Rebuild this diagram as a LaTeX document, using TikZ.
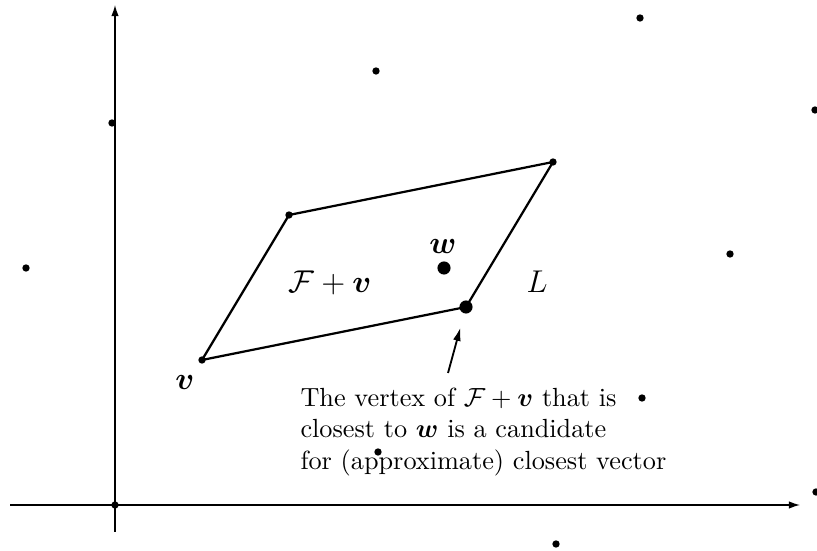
\documentclass[tikz,border=0pt]{standalone}
\usepackage{amsmath,bm}
\usetikzlibrary{arrows.meta}
\begin{document}
\begin{tikzpicture}[x=0.381pt,y=-0.381pt,
  dot/.style={circle,fill=black,inner sep=0pt,minimum size=2.8pt},
  bigdot/.style={circle,fill=black,inner sep=0pt,minimum size=5pt},
  axis/.style={line width=0.5pt,-{Latex[length=4.2pt,width=2.8pt]}},
  edge/.style={line width=0.85pt},
  lbl/.style={inner sep=0pt,font=\fontsize{12.5}{15}\selectfont}]
\useasboundingbox (0,0) rectangle (817,551);
% axes
\coordinate (xs) at (10,505);
\coordinate (xe) at (800,505);
\coordinate (ys) at (115,532);
\coordinate (ye) at (115,5);
\draw[axis] (xs) -- (xe);
\draw[axis] (ys) -- (ye);
% lattice points
\node[dot] (o) at (115,505) {};
\node[dot] (p1) at (112,123) {};
\node[dot] (p2) at (26,268) {};
\node[dot] (p3) at (376,71) {};
\node[dot] (p4) at (640,18) {};
\node[dot] (p5) at (815,110) {};
\node[dot] (p6) at (730,254) {};
\node[dot] (p7) at (642,398) {};
\node[dot] (p8) at (378,452) {};
\node[dot] (p9) at (556,544) {};
\node[dot] (p10) at (816,492) {};
% parallelogram
\node[dot] (v) at (202,360) {};
\node[dot] (b2) at (289,215) {};
\node[dot] (b12) at (553,162) {};
\node[bigdot] (vert) at (466,307) {};
\draw[edge] (v.center) -- (vert.center) -- (b12.center) -- (b2.center) -- cycle;
\node[bigdot] (w) at (444,268) {};
% labels
\node[lbl] (lv) at (185,383) {$\boldsymbol{v}$};
\node[lbl] (lF) at (330,283) {$\mathcal{F}+\boldsymbol{v}$};
\node[lbl] (lw) at (443,247) {$\boldsymbol{w}$};
\node[lbl] (lL) at (537,282) {$L$};
\node[inner sep=0pt,anchor=west,align=left] (txt) at (300,432) {The vertex of $\mathcal{F}+\boldsymbol{v}$ that is\\ closest to $\boldsymbol{w}$ is a candidate\\ for (approximate) closest vector};
% arrow
\coordinate (as) at (448,373);
\draw[line width=0.7pt,-{Latex[length=5pt,width=3pt]},shorten >=5.5pt] (as) -- (vert);
\end{tikzpicture}
\end{document}
